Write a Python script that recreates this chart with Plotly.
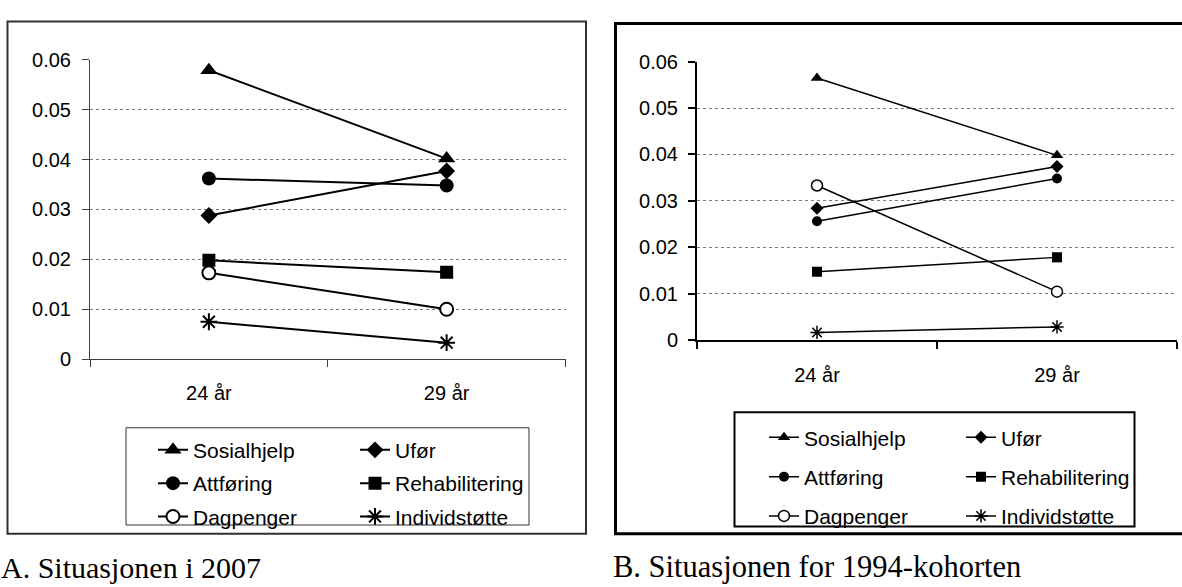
import plotly.graph_objects as go

W, H = 1182, 587

categories = ["24 år", "29 år"]
series_names = ["Sosialhjelp", "Ufør", "Attføring", "Rehabilitering", "Dagpenger", "Individstøtte"]

# Panel A: Situasjonen i 2007
values_a = {
    "Sosialhjelp":    [0.0579, 0.0402],
    "Ufør":           [0.0288, 0.0377],
    "Attføring":      [0.0362, 0.0348],
    "Rehabilitering": [0.0198, 0.0174],
    "Dagpenger":      [0.0173, 0.0100],
    "Individstøtte":  [0.0075, 0.0033],
}
# Panel B: Situasjonen for 1994-kohorten
values_b = {
    "Sosialhjelp":    [0.0565, 0.0398],
    "Ufør":           [0.0284, 0.0374],
    "Attføring":      [0.0256, 0.0348],
    "Rehabilitering": [0.0147, 0.0178],
    "Dagpenger":      [0.0333, 0.0104],
    "Individstøtte":  [0.0016, 0.0028],
}

y_tickvals = [0, 0.01, 0.02, 0.03, 0.04, 0.05, 0.06]
y_ticktext = ["0", "0.01", "0.02", "0.03", "0.04", "0.05", "0.06"]

caption_a = "A. Situasjonen i 2007"
caption_b = "B. Situasjonen for 1994-kohorten"

symbols = {
    "Sosialhjelp": "triangle-up",
    "Ufør": "diamond",
    "Attføring": "circle",
    "Rehabilitering": "square",
    "Dagpenger": "circle",
    "Individstøtte": "asterisk",
}
sizes_a = {"Sosialhjelp": 15, "Ufør": 13, "Attføring": 14, "Rehabilitering": 13,
           "Dagpenger": 13, "Individstøtte": 14}
sizes_b = {"Sosialhjelp": 11, "Ufør": 10, "Attføring": 10, "Rehabilitering": 10,
           "Dagpenger": 11, "Individstøtte": 11}
col1 = ["Sosialhjelp", "Attføring", "Dagpenger"]

SANS = "Liberation Sans, Arial, sans-serif"
SERIF = "Liberation Serif, Times New Roman, serif"


def px_x(v):
    return v / W


def px_y(v):
    return 1 - v / H


fig = go.Figure()

for panel, vals, sizes, lw, mlw, xa, ya, legs in [
    ("a", values_a, sizes_a, 2, 2, "x", "y", ("legend", "legend2")),
    ("b", values_b, sizes_b, 1.5, 1.5, "x2", "y2", ("legend3", "legend4")),
]:
    for name in series_names:
        sym = symbols[name]
        if name == "Dagpenger":
            marker = dict(symbol="circle", size=sizes[name], color="white",
                          line=dict(color="black", width=mlw))
        elif name == "Individstøtte":
            marker = dict(symbol="asterisk", size=sizes[name], color="black",
                          line=dict(color="black", width=mlw))
        else:
            marker = dict(symbol=sym, size=sizes[name], color="black",
                          line=dict(color="black", width=0))
        fig.add_trace(go.Scatter(
            x=categories, y=vals[name], name=name, mode="lines+markers",
            line=dict(color="black", width=lw), marker=marker,
            xaxis=xa, yaxis=ya,
            legend=legs[0] if name in col1 else legs[1],
            legendgroup=panel + name,
        ))

tickfont = dict(family=SANS, size=20, color="black")

fig.update_layout(
    xaxis=dict(domain=[px_x(90), px_x(565.5)], anchor="y", type="category",
               range=[-0.5, 1.5], tickson="boundaries", ticks="outside", ticklen=7,
               showgrid=False, zeroline=False, tickfont=tickfont,
               showline=True, linecolor="#404040", linewidth=1,
               tickcolor="#404040", tickwidth=1, ticklabelstandoff=16),
    yaxis=dict(domain=[px_y(361.7), px_y(50.7)], anchor="x", range=[0, 0.06],
               tickvals=y_tickvals, ticktext=y_ticktext, ticks="outside", ticklen=7,
               zeroline=False, tickfont=tickfont,
               showline=True, linecolor="#404040", linewidth=1,
               tickcolor="#404040", tickwidth=1, ticklabelstandoff=7,
               showgrid=True, gridcolor="#7a7a7a", griddash="dot", gridwidth=1),
    xaxis2=dict(domain=[px_x(697), px_x(1177)], anchor="y2", type="category",
                range=[-0.5, 1.5], tickson="boundaries", ticks="outside", ticklen=7,
                showgrid=False, zeroline=False, tickfont=tickfont,
                showline=True, linecolor="black", linewidth=2,
                tickcolor="black", tickwidth=2, ticklabelstandoff=16),
    yaxis2=dict(domain=[px_y(341.7), px_y(52.7)], anchor="x2", range=[0, 0.06],
                tickvals=y_tickvals, ticktext=y_ticktext, ticks="outside", ticklen=7,
                zeroline=False, tickfont=tickfont,
                showline=True, linecolor="black", linewidth=2,
                tickcolor="black", tickwidth=2, ticklabelstandoff=6,
                showgrid=True, gridcolor="#7a7a7a", griddash="dot", gridwidth=1),
)

leg_common = dict(xanchor="left", yanchor="top", bgcolor="rgba(0,0,0,0)",
                  borderwidth=0, font=dict(family=SANS, size=21, color="black"),
                  orientation="v")
fig.update_layout(
    legend=dict(x=px_x(153), y=px_y(435), tracegroupgap=3, **leg_common),
    legend2=dict(x=px_x(355), y=px_y(435), tracegroupgap=3, **leg_common),
    legend3=dict(x=px_x(764), y=px_y(422), tracegroupgap=9, **leg_common),
    legend4=dict(x=px_x(961), y=px_y(422), tracegroupgap=9, **leg_common),
)

shapes = [
    dict(type="rect", xref="paper", yref="paper", x0=px_x(7.5), x1=px_x(586),
         y0=px_y(543), y1=px_y(11), line=dict(color="#303030", width=2)),
    dict(type="rect", xref="paper", yref="paper", x0=px_x(615.5), x1=px_x(1250),
         y0=px_y(543), y1=px_y(13), line=dict(color="black", width=3)),
    dict(type="rect", xref="paper", yref="paper", x0=px_x(126), x1=px_x(529),
         y0=px_y(534), y1=px_y(433), line=dict(color="#303030", width=1)),
    dict(type="rect", xref="paper", yref="paper", x0=px_x(734.5), x1=px_x(1134.5),
         y0=px_y(535.5), y1=px_y(417), line=dict(color="black", width=2)),
]

annotations = [
    dict(text=caption_a, xref="paper", yref="paper", x=px_x(-1), y=px_y(597),
         xanchor="left", yanchor="bottom", showarrow=False,
         font=dict(family=SERIF, size=30, color="black")),
    dict(text=caption_b, xref="paper", yref="paper", x=px_x(611), y=px_y(597),
         xanchor="left", yanchor="bottom", showarrow=False,
         font=dict(family=SERIF, size=30.5, color="black")),
]

fig.update_layout(
    width=W, height=H, autosize=False,
    margin=dict(l=0, r=0, t=0, b=0),
    paper_bgcolor="white", plot_bgcolor="white",
    shapes=shapes, annotations=annotations,
    showlegend=True,
)

fig.write_html("out.html", config={"displayModeBar": False},
               post_script="document.body.style.margin='0';document.body.style.overflow='hidden';")
